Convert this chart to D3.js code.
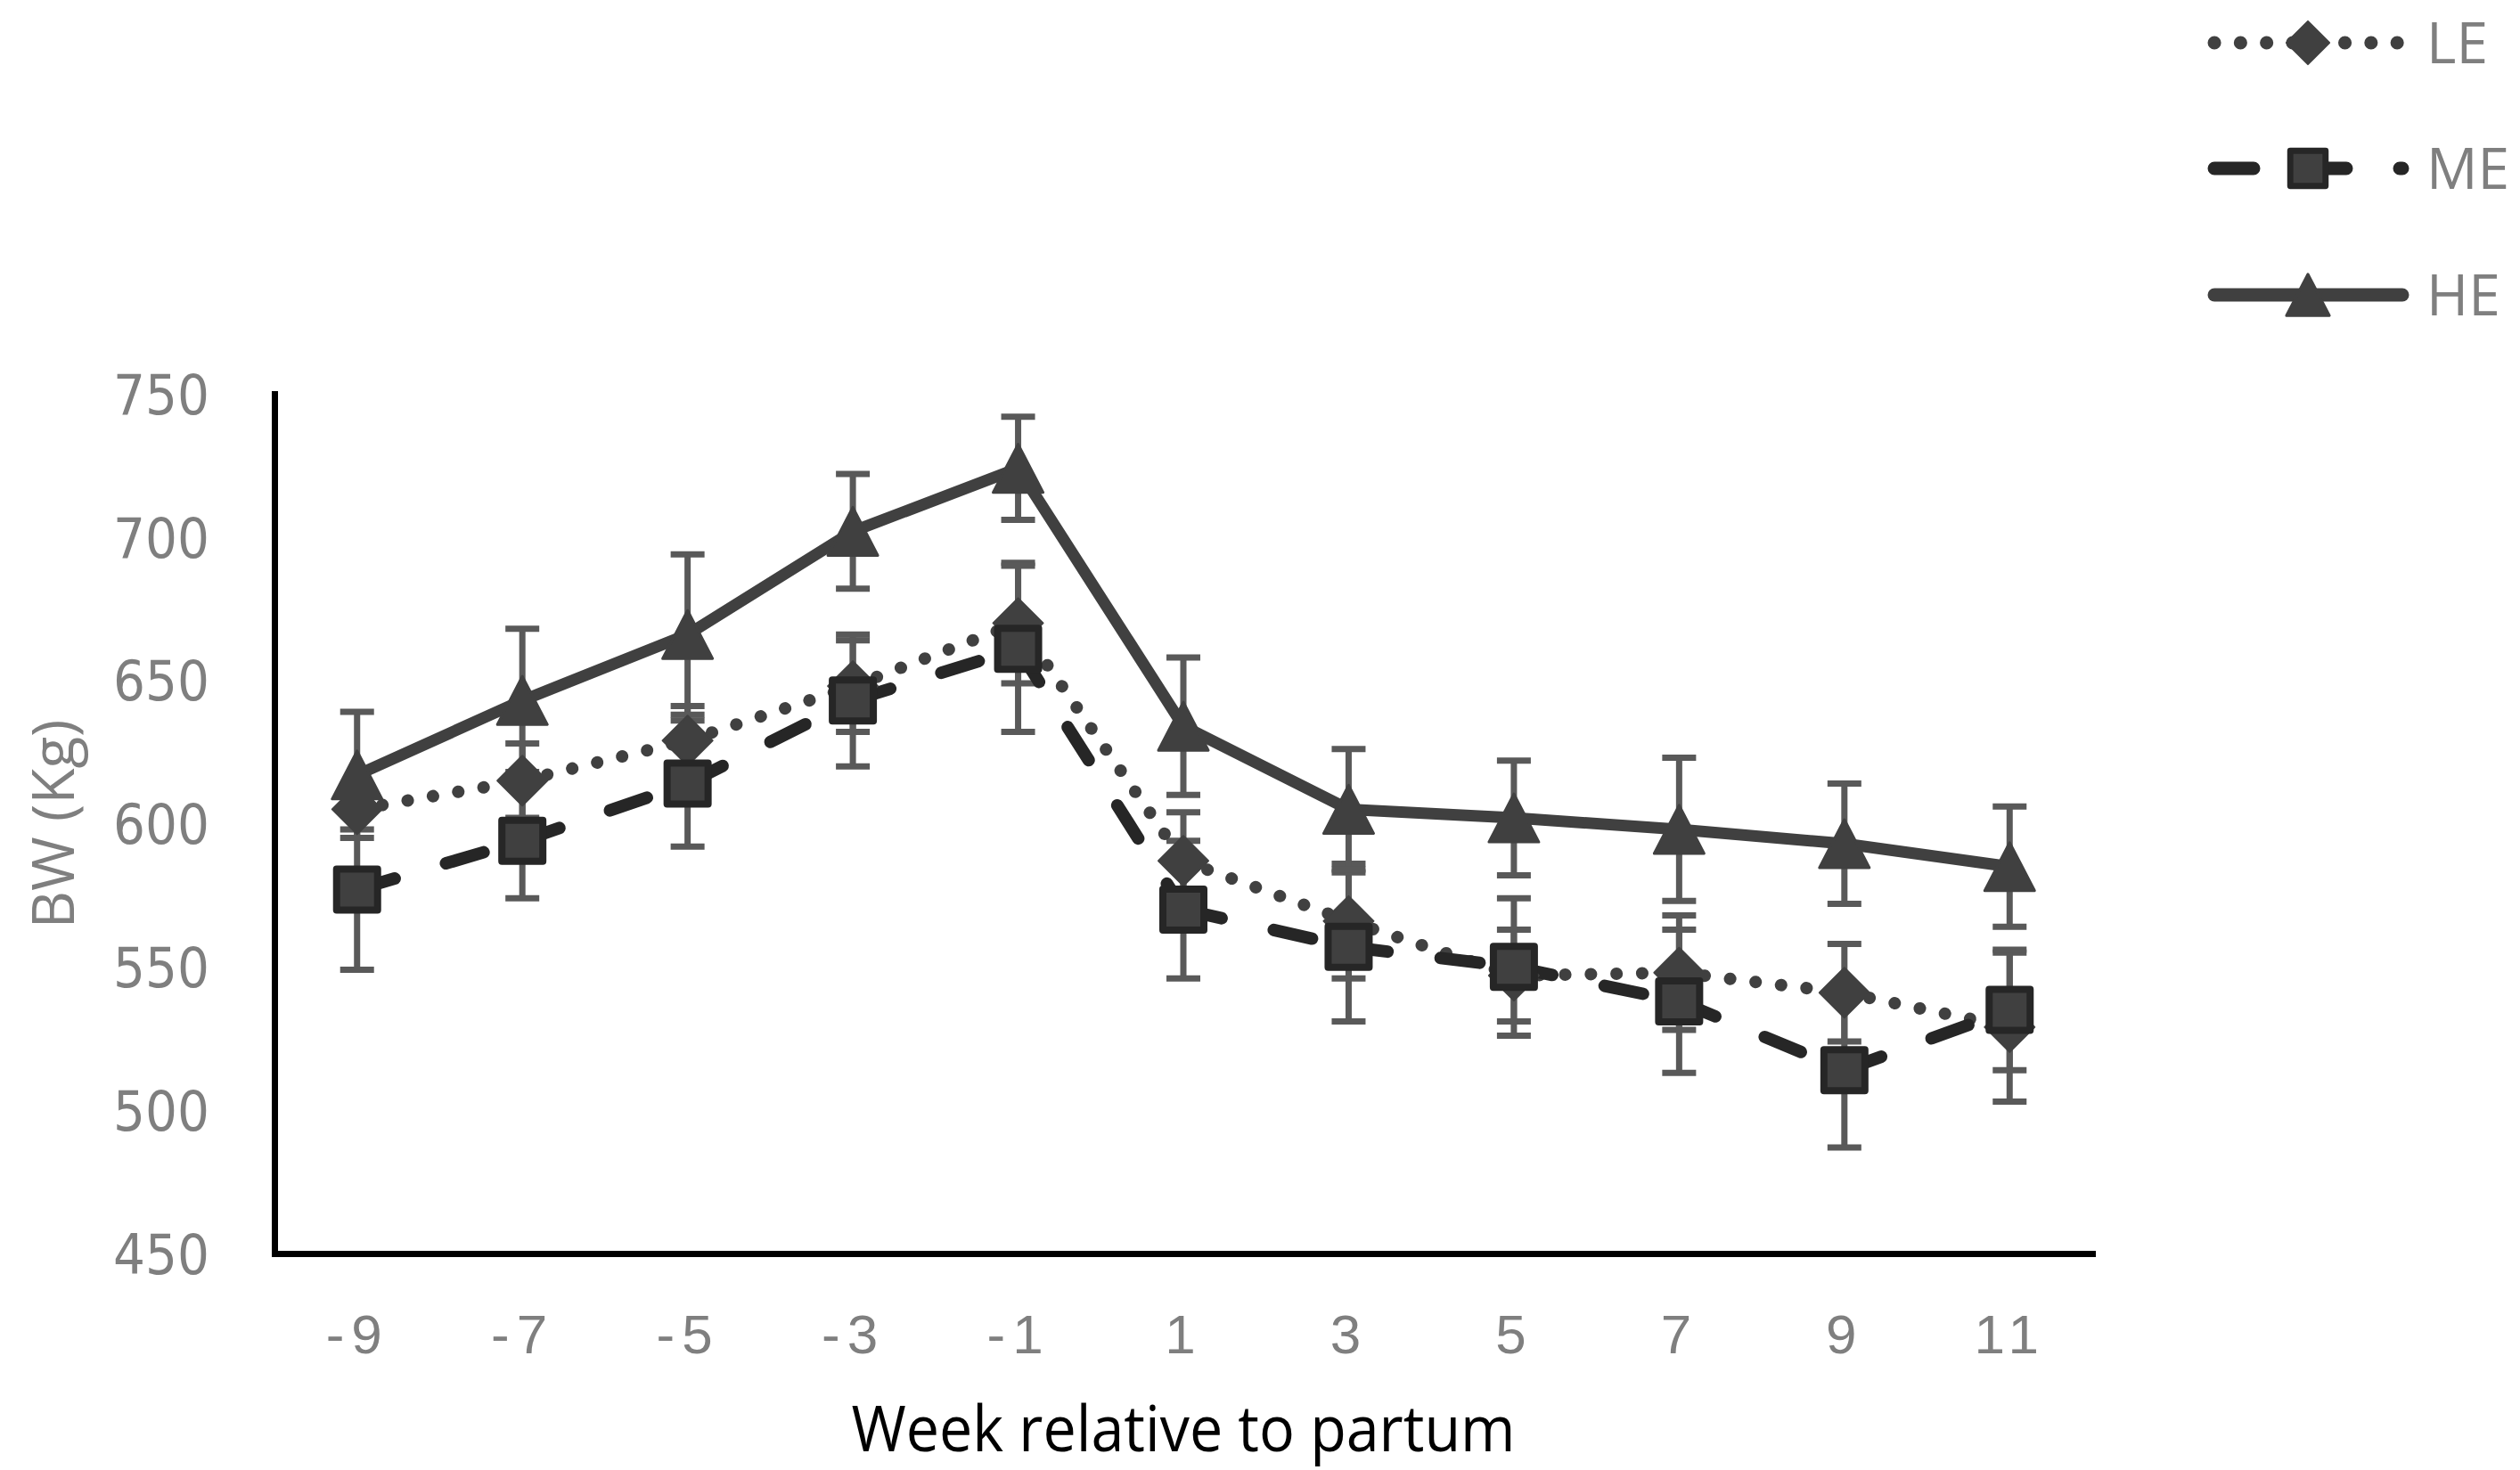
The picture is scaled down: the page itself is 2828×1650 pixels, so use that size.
<!DOCTYPE html>
<html>
<head>
<meta charset="utf-8">
<script src="https://cdn.jsdelivr.net/npm/d3@7"></script>
<style>
  body { margin: 0; background: #fff; }
</style>
</head>
<body>
<div id="chart"></div>
<script>
// values (BW, kg, mean and error)
const weeks = [-9, -7, -5, -3, -1, 1, 3, 5, 7, 9, 11];
const leMean = [605, 615, 629, 648, 670, 587, 566, 547, 548, 541, 529];
const leErr  = [7, 13, 12, 16, 21, 17, 20, 16, 20, 17, 26];
const meMean = [577, 594, 614, 643, 661, 570, 557, 550, 538, 514, 535];
const meErr  = [28, 20, 22, 23, 29, 24, 26, 24, 25, 27, 21];
const heMean = [617, 643, 666, 702, 724, 634, 605, 602, 598, 593, 585];
const heErr  = [22, 25, 28, 20, 18, 24, 21, 20, 25, 21, 21];
const yTicks = [450, 500, 550, 600, 650, 700, 750];
const seriesNames = ["LE", "ME", "HE"];

const width = 2828, height = 1650;
const plotLeft = 308, plotRight = 2348, plotTop = 442, plotBottom = 1407;

const svg = d3.select("#chart").append("svg")
    .attr("width", width)
    .attr("height", height)
    .attr("viewBox", [0, 0, width, height]);

const x = d3.scalePoint().domain(weeks).range([plotLeft, plotRight]).padding(0.5);
const y = d3.scaleLinear().domain([450, 750]).range([plotBottom, plotTop]);

const series = [
    {name: seriesNames[0], mean: leMean, err: leErr, shape: "diamond", stroke: "#404040", width: 14, dash: "0.1 28.7"},
    {name: seriesNames[1], mean: meMean, err: meErr, shape: "square", stroke: "#262626", width: 14, dash: "44 60"},
    {name: seriesNames[2], mean: heMean, err: heErr, shape: "triangle", stroke: "#404040", width: 13, dash: null}
];

function marker(g, shape, k) {
    if (shape === "diamond") {
        const r = 28 * k;
        g.append("path")
            .attr("d", `M0,${-r}L${r},0L0,${r}L${-r},0Z`)
            .attr("fill", "#404040").attr("stroke", "#404040")
            .attr("stroke-width", 2).attr("stroke-linejoin", "round");
    } else if (shape === "square") {
        const s = 46 * k;
        g.append("rect")
            .attr("x", -s / 2).attr("y", -s / 2).attr("width", s).attr("height", s)
            .attr("fill", "#404040").attr("stroke", "#262626")
            .attr("stroke-width", 8 * k).attr("stroke-linejoin", "round");
    } else {
        const w = 28 * k, h = 27 * k;
        g.append("path")
            .attr("d", `M0,${-h}L${w},${h}L${-w},${h}Z`)
            .attr("fill", "#404040").attr("stroke", "#404040")
            .attr("stroke-width", 3).attr("stroke-linejoin", "round");
    }
}

// axes
svg.append("g")
    .attr("transform", `translate(${plotLeft},0)`)
    .call(d3.axisLeft(y).tickValues(yTicks).tickSize(0).tickSizeOuter(0).tickPadding(73))
    .call(g => g.select(".domain").attr("stroke", "#000").attr("stroke-width", 7).attr("stroke-linecap", "square"))
    .call(g => g.selectAll(".tick text")
        .attr("font-family", "DejaVu Sans")
        .attr("font-size", 62)
        .attr("fill", "#7f7f7f")
        .attr("dy", "0.36em")
        .attr("textLength", 108)
        .attr("lengthAdjust", "spacingAndGlyphs"));

svg.append("g")
    .attr("transform", `translate(0,${plotBottom})`)
    .call(d3.axisBottom(x).tickSize(0).tickSizeOuter(0))
    .call(g => g.select(".domain").attr("stroke", "#000").attr("stroke-width", 7).attr("stroke-linecap", "square"))
    .call(g => g.selectAll(".tick text")
        .attr("font-family", "Liberation Sans")
        .attr("font-size", 62)
        .attr("fill", "#7f7f7f")
        .attr("letter-spacing", 8)
        .attr("dy", null)
        .attr("y", 112));

svg.append("text")
    .attr("x", (plotLeft + plotRight) / 2)
    .attr("y", 1629)
    .attr("text-anchor", "middle")
    .attr("font-family", "Open Sans")
    .attr("font-size", 72)
    .attr("fill", "#000")
    .attr("textLength", 745)
    .attr("lengthAdjust", "spacingAndGlyphs")
    .text("Week relative to partum");

svg.append("text")
    .attr("transform", "translate(83,925) rotate(-90)")
    .attr("text-anchor", "middle")
    .attr("font-family", "Open Sans")
    .attr("font-size", 66)
    .attr("fill", "#7f7f7f")
    .attr("textLength", 235)
    .attr("lengthAdjust", "spacingAndGlyphs")
    .text("BW (Kg)");

// error bars
const bars = svg.append("g").attr("stroke", "#595959").attr("stroke-width", 7);
series.forEach(s => {
    weeks.forEach((w, i) => {
        const cx = x(w), y1 = y(s.mean[i] + s.err[i]), y0 = y(s.mean[i] - s.err[i]);
        bars.append("line").attr("x1", cx).attr("x2", cx).attr("y1", y1).attr("y2", y0);
        bars.append("line").attr("x1", cx - 19).attr("x2", cx + 19).attr("y1", y1).attr("y2", y1);
        bars.append("line").attr("x1", cx - 19).attr("x2", cx + 19).attr("y1", y0).attr("y2", y0);
    });
});

// lines, drawn segment by segment so the dash pattern restarts at each point
const line = d3.line().x(d => x(d[0])).y(d => y(d[1]));
series.forEach(s => {
    const pts = weeks.map((w, i) => [w, s.mean[i]]);
    if (s.dash) {
        d3.pairs(pts).forEach(seg => {
            svg.append("path")
                .attr("d", line(seg))
                .attr("fill", "none")
                .attr("stroke", s.stroke)
                .attr("stroke-width", s.width)
                .attr("stroke-linecap", "round")
                .attr("stroke-dasharray", s.dash);
        });
    } else {
        svg.append("path")
            .attr("d", line(pts))
            .attr("fill", "none")
            .attr("stroke", s.stroke)
            .attr("stroke-width", s.width)
            .attr("stroke-linejoin", "round")
            .attr("stroke-linecap", "round");
    }
});

// markers
series.forEach(s => {
    weeks.forEach((w, i) => {
        const g = svg.append("g").attr("transform", `translate(${x(w)},${y(s.mean[i])})`);
        marker(g, s.shape, 1);
    });
});

// legend
const legendY = [48, 189, 331];
series.forEach((s, i) => {
    const g = svg.append("g").attr("transform", `translate(0,${legendY[i]})`);
    g.append("line")
        .attr("x1", 2485).attr("x2", 2696)
        .attr("stroke", s.stroke)
        .attr("stroke-width", 15)
        .attr("stroke-linecap", "round")
        .attr("stroke-dasharray", s.dash ? (s.shape === "diamond" ? "0.1 29.2" : s.dash) : null);
    marker(g.append("g").attr("transform", "translate(2590,0)"), s.shape, 0.86);
    g.append("text")
        .attr("x", 2723)
        .attr("y", 23)
        .attr("font-family", "Open Sans")
        .attr("font-size", 64)
        .attr("fill", "#7f7f7f")
        .text(s.name);
});
</script>
</body>
</html>
